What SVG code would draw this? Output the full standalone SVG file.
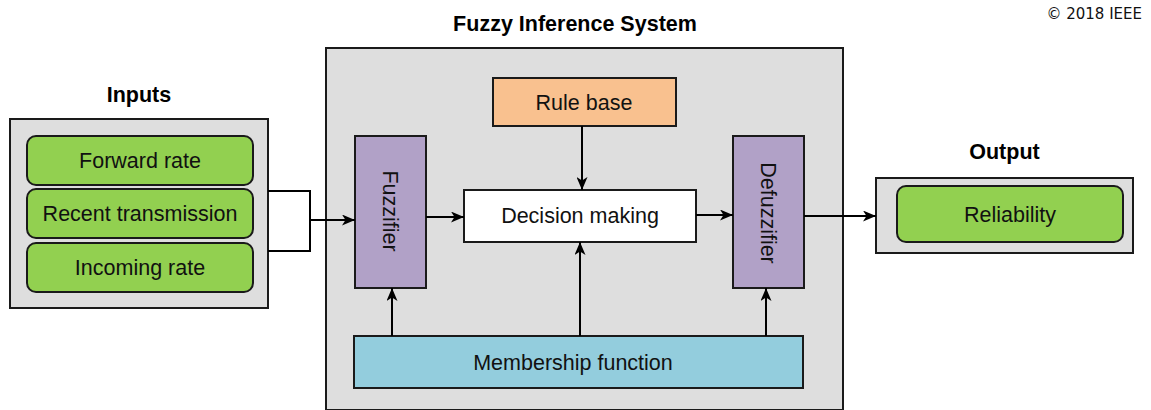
<svg xmlns="http://www.w3.org/2000/svg" width="1151" height="410" viewBox="0 0 1151 410">
  <style>
    .panel { fill: #dedede; stroke: #1a1a1a; stroke-width: 2; }
    .box { stroke: #1a1a1a; stroke-width: 2; }
    .green { fill: #92d050; }
    .orange { fill: #f9c18f; }
    .purple { fill: #b1a1c7; }
    .blue { fill: #93cddd; }
    .white { fill: #ffffff; }
    .label { font-family: "Liberation Sans", Arial, sans-serif; font-size: 21.5px; fill: #111; text-anchor: middle; }
    .title { font-family: "Liberation Sans", Arial, sans-serif; font-size: 21.5px; font-weight: bold; fill: #000; text-anchor: middle; }
    .link { fill: none; stroke: #000; stroke-width: 2; }
    .copy { font-family: "DejaVu Sans", sans-serif; font-size: 15px; fill: #111; text-anchor: end; }
  </style>
  <defs>
    <marker id="arrow" viewBox="0 0 13 11" refX="13" refY="5.5" markerWidth="13" markerHeight="11" markerUnits="userSpaceOnUse" orient="auto">
      <path d="M0,0 L13,5.5 L0,11 L3.5,5.5 Z" fill="#000"/>
    </marker>
  </defs>

  <text class="copy" x="1142" y="19">© 2018 IEEE</text>

  <!-- Inputs panel -->
  <g id="inputs">
    <text class="title" x="139" y="102">Inputs</text>
    <rect class="panel" x="10" y="119" width="258" height="189"/>
  </g>
  <g id="forward-rate">
    <rect class="box green" x="27" y="136" width="226" height="49" rx="9"/>
    <text class="label" x="140" y="168">Forward rate</text>
  </g>
  <g id="recent-transmission">
    <rect class="box green" x="27" y="189" width="226" height="49" rx="9"/>
    <text class="label" x="140" y="221">Recent transmission</text>
  </g>
  <g id="incoming-rate">
    <rect class="box green" x="27" y="243" width="226" height="49" rx="9"/>
    <text class="label" x="140" y="275">Incoming rate</text>
  </g>

  <!-- Fuzzy inference system panel -->
  <g id="fis">
    <text class="title" x="575" y="31">Fuzzy Inference System</text>
    <rect class="panel" x="326" y="48" width="517" height="362"/>
  </g>
  <g id="rule-base">
    <rect class="box orange" x="493" y="78" width="183" height="48"/>
    <text class="label" x="584" y="110">Rule base</text>
  </g>
  <g id="fuzzifier">
    <rect class="box purple" x="355" y="136" width="71" height="152"/>
    <text class="label" transform="translate(390.5,211) rotate(90)" x="0" y="7.7">Fuzzifier</text>
  </g>
  <g id="decision-making">
    <rect class="box white" x="464" y="190" width="232" height="52"/>
    <text class="label" x="580" y="223">Decision making</text>
  </g>
  <g id="defuzzifier">
    <rect class="box purple" x="733" y="136" width="71" height="152"/>
    <text class="label" transform="translate(768.5,213) rotate(90)" x="0" y="7.7">Defuzzifier</text>
  </g>
  <g id="membership-function">
    <rect class="box blue" x="354" y="336" width="449" height="52"/>
    <text class="label" x="573" y="370">Membership function</text>
  </g>

  <!-- Output panel -->
  <g id="output">
    <text class="title" x="1004.5" y="159">Output</text>
    <rect class="panel" x="876" y="178" width="257" height="75"/>
  </g>
  <g id="reliability">
    <rect class="box green" x="897" y="186" width="226" height="56" rx="9"/>
    <text class="label" x="1010" y="222">Reliability</text>
  </g>

  <!-- Connectors -->
  <g id="connectors">
    <polyline class="link" points="268,191 310,191 310,251 268,251"/>
    <line class="link" x1="310" y1="220" x2="355" y2="220" marker-end="url(#arrow)"/>
    <line class="link" x1="426" y1="217" x2="464" y2="217" marker-end="url(#arrow)"/>
    <line class="link" x1="582" y1="126" x2="582" y2="190" marker-end="url(#arrow)"/>
    <line class="link" x1="696" y1="215" x2="733" y2="215" marker-end="url(#arrow)"/>
    <line class="link" x1="804" y1="216" x2="876" y2="216" marker-end="url(#arrow)"/>
    <line class="link" x1="392" y1="336" x2="392" y2="288" marker-end="url(#arrow)"/>
    <line class="link" x1="580" y1="336" x2="580" y2="242" marker-end="url(#arrow)"/>
    <line class="link" x1="766" y1="336" x2="766" y2="288" marker-end="url(#arrow)"/>
  </g>
</svg>
